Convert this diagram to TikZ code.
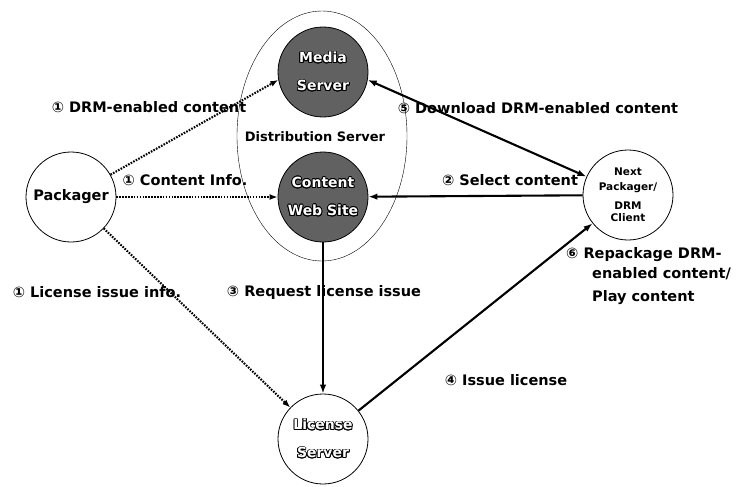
\documentclass[tikz,border=0pt]{standalone}
\usepackage{fontspec}
\setmainfont{DejaVu Sans}
\usepackage[copies]{contour}
\contourlength{0.8pt}
\usetikzlibrary{arrows.meta}
% white letters with a dark rim
\newcommand\rimtext[1]{{\color{white}\contour{black}{#1}}}

\begin{document}
\begin{tikzpicture}[x=1pt,y=-1pt,
		station/.style={draw,circle,thick,minimum size=90pt,inner sep=0pt,align=center},
		darkstation/.style={station,fill=black!62},
		dotarrow/.style={-{Latex[length=8pt,width=6pt]},line width=2.1pt,dash pattern=on 1.6pt off 1.3pt},
		linkarrow/.style={-{Latex[length=9pt,width=6.5pt]},line width=2.1pt},
		lbl/.style={font=\bfseries\fontsize{14.5}{17}\selectfont,inner sep=0pt}]
		\useasboundingbox (0,0) rectangle (736,487);
		% distribution server
		\draw[thin] (322,136) ellipse (85 and 125);
		\node[darkstation,font=\bfseries\fontsize{14}{28}\selectfont] (media) at (323,72) {\rimtext{Media}\\\rimtext{Server}};
		\node[darkstation,font=\bfseries\fontsize{14}{28}\selectfont] (content) at (323,197) {\rimtext{Content}\\\rimtext{Web Site}};
		\node[lbl,font=\bfseries\fontsize{13}{15}\selectfont] (dist) at (315,137) {Distribution Server};
		% other parties
		\node[station,font=\bfseries\fontsize{14.5}{17}\selectfont] (pack) at (71,197) {Packager};
		\node[station,font=\bfseries\fontsize{14}{28}\selectfont] (lic) at (323,439) {\rimtext{License}\\\rimtext{Server}};
		\node[station,font=\bfseries\fontsize{10.5}{15}\selectfont] (client) at (628,195) {Next\\Packager/\\[4pt]DRM\\[-3pt]Client};
		% labels
		\node[lbl] (l1a) at (149,107) {① DRM-enabled content};
		\node[lbl] (l1b) at (185,180) {① Content Info.};
		\node[lbl] (l1c) at (97,292) {① License issue info.};
		\node[lbl] (l2) at (510,180) {② Select content};
		\node[lbl] (l3) at (324,292) {③ Request license issue};
		\node[lbl] (l4) at (506,380) {④ Issue license};
		\node[lbl] (l5) at (538,108) {⑤ Download DRM-enabled content};
		\node[lbl,anchor=west] (l6a) at (566,255) {⑥ Repackage DRM-};
		\node[lbl,anchor=west] (l6b) at (592,274) {enabled content/};
		\node[lbl,anchor=west] (l6c) at (592,298) {Play content};
		% flows
		\draw[dotarrow] (pack) -- (media.190);
		\draw[dotarrow] (pack) -- (content);
		\draw[dotarrow] (pack) -- (lic);
		\draw[linkarrow,{Latex[length=9pt,width=6.5pt]}-{Latex[length=9pt,width=6.5pt]}] (media.-10) -- (client);
		\draw[linkarrow] (client) -- (content);
		\draw[linkarrow] (content) -- (lic);
		\draw[linkarrow] (lic) -- (client);
	\end{tikzpicture}
\end{document}
